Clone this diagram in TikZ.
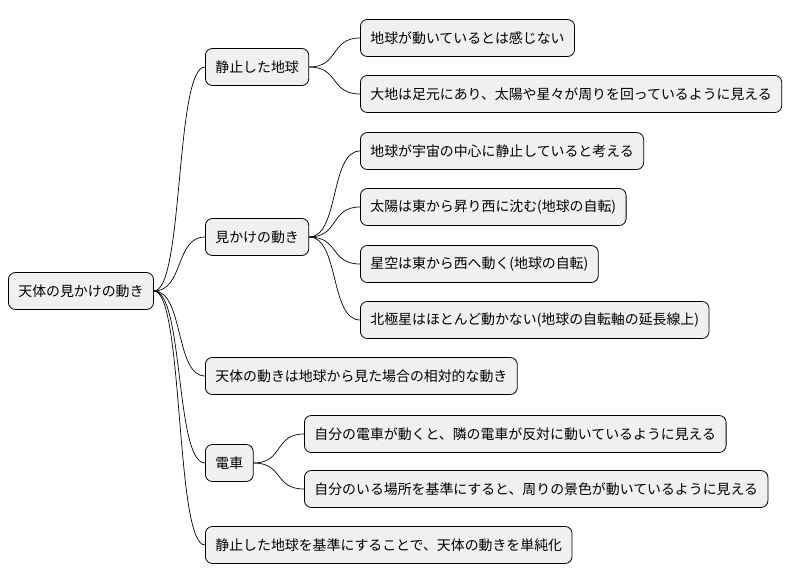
\documentclass[tikz,border=0pt]{standalone}
\usepackage{fontspec}
\setmainfont{Noto Sans CJK JP}
\begin{document}
\begin{tikzpicture}[x=1pt,y=-1pt,
  box/.style={draw=black,line width=0.8pt,fill=black!6,rounded corners=7pt,minimum height=37pt,inner xsep=10pt,anchor=west,font=\fontsize{13.9}{16}\selectfont},
  con/.style={line width=0.7pt}]
\useasboundingbox (0,0) rectangle (796,583);
\node[box] (r) at (8,291) {天体の見かけの動き};
\node[box] (a) at (205,67) {静止した地球};
\node[box] (a1) at (360,38) {地球が動いているとは感じない};
\node[box] (a2) at (360,94) {大地は足元にあり、太陽や星々が周りを回っているように見える};
\node[box] (b) at (205,237) {見かけの動き};
\node[box] (b1) at (360,151) {地球が宇宙の中心に静止していると考える};
\node[box] (b2) at (360,207) {太陽は東から昇り西に沈む(地球の自転)};
\node[box] (b3) at (360,264) {星空は東から西へ動く(地球の自転)};
\node[box] (b4) at (360,320) {北極星はほとんど動かない(地球の自転軸の延長線上)};
\node[box] (c) at (205,376) {天体の動きは地球から見た場合の相対的な動き};
\node[box] (d) at (205,463) {電車};
\node[box] (d1) at (304,434) {自分の電車が動くと、隣の電車が反対に動いているように見える};
\node[box] (d2) at (304,489) {自分のいる場所を基準にすると、周りの景色が動いているように見える};
\node[box] (e) at (205,545) {静止した地球を基準にすることで、天体の動きを単純化};
\foreach \p/\c in {r/a,r/b,r/c,r/d,r/e,a/a1,a/a2,b/b1,b/b2,b/b3,b/b4,d/d1,d/d2}
  \draw[con] (\p.east) .. controls ([xshift=30pt]\p.east) and ([xshift=-30pt]\c.west) .. (\c.west);
\end{tikzpicture}
\end{document}
